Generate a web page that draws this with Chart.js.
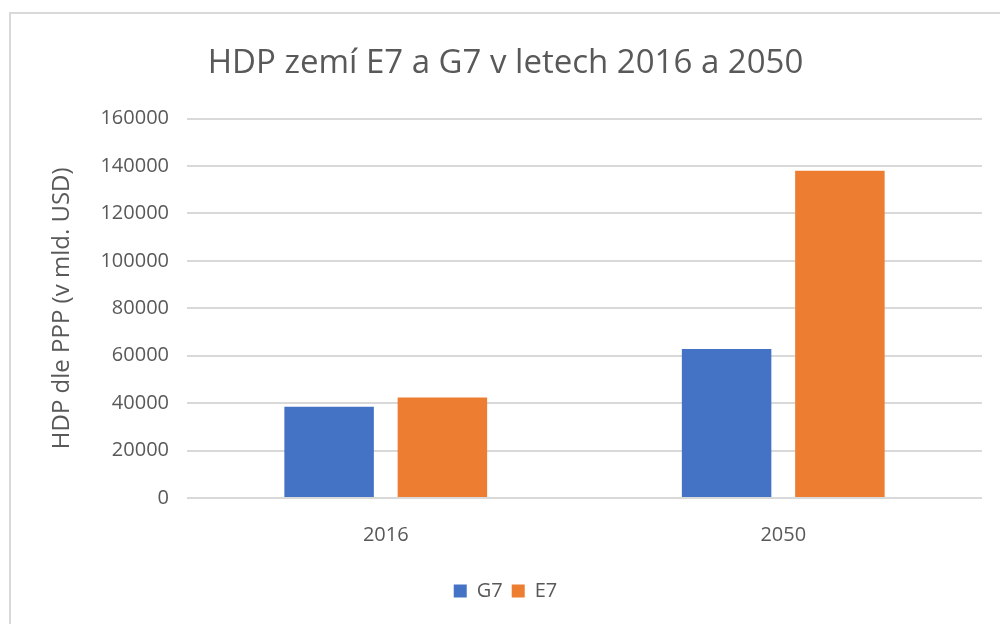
<!DOCTYPE html>
<html>
<head>
<meta charset="utf-8">
<script src="https://cdn.jsdelivr.net/npm/chart.js@4"></script>
<style>
  html, body { margin: 0; padding: 0; background: #fff; }
  #wrap { width: 1000px; height: 624px; position: relative; }
</style>
</head>
<body>
<div id="wrap"><canvas id="chart" width="1000" height="624"></canvas></div>
<script>
const years = ["2016", "2050"];
const g7Values = [38500, 62800];
const e7Values = [42400, 138000];
const yTicks = [0, 20000, 40000, 60000, 80000, 100000, 120000, 140000, 160000];

const textColor = "#595959";
const font = "'Open Sans', sans-serif";

// white page + light frame like the exported picture
const framePlugin = {
  id: "frame",
  beforeDraw: (chart) => {
    const { ctx } = chart;
    ctx.save();
    ctx.fillStyle = "#fff";
    ctx.fillRect(0, 0, chart.width, chart.height);
    ctx.strokeStyle = "#d9d9d9";
    ctx.lineWidth = 2;
    ctx.strokeRect(10, 13, chart.width + 20, chart.height + 20);
    ctx.restore();
  },
};

const ctx = document.getElementById("chart").getContext("2d");

new Chart(ctx, {
  type: "bar",
  data: {
    labels: years,
    datasets: [
      {
        label: "G7",
        data: g7Values,
        backgroundColor: "#4472C4",
        categoryPercentage: 0.57,
        barPercentage: 0.79,
      },
      {
        label: "E7",
        data: e7Values,
        backgroundColor: "#ED7D31",
        categoryPercentage: 0.57,
        barPercentage: 0.79,
      },
    ],
  },
  options: {
    responsive: false,
    animation: false,
    layout: {
      padding: { left: 29, right: 18, top: 0, bottom: 13 },
    },
    plugins: {
      title: {
        display: true,
        text: "HDP zemí E7 a G7 v letech 2016 a 2050",
        color: textColor,
        font: { family: font, size: 33, weight: "normal" },
        padding: { top: 44, bottom: 35 },
      },
      legend: {
        position: "bottom",
        labels: {
          color: textColor,
          font: { family: font, size: 20 },
          boxWidth: 13,
          boxHeight: 13,
          padding: 9,
        },
      },
      tooltip: { enabled: false },
    },
    scales: {
      x: {
        grid: { display: false, drawTicks: false },
        border: { display: false },
        ticks: {
          color: textColor,
          font: { family: font, size: 20 },
          padding: 25,
        },
      },
      y: {
        min: 0,
        max: 160000,
        afterFit: (scale) => {
          scale.width = 158;
        },
        afterBuildTicks: (scale) => {
          scale.ticks = yTicks.map((v) => ({ value: v }));
        },
        grid: { color: "#d9d9d9", lineWidth: 2, drawTicks: false },
        border: { display: false },
        ticks: {
          color: textColor,
          font: { family: font, size: 20 },
          padding: 18,
          callback: (value) => String(value),
        },
        title: {
          display: true,
          text: "HDP dle PPP (v mld. USD)",
          color: textColor,
          font: { family: font, size: 24 },
          padding: { top: 19, bottom: 0 },
        },
      },
    },
  },
  plugins: [framePlugin],
});
</script>
</body>
</html>
